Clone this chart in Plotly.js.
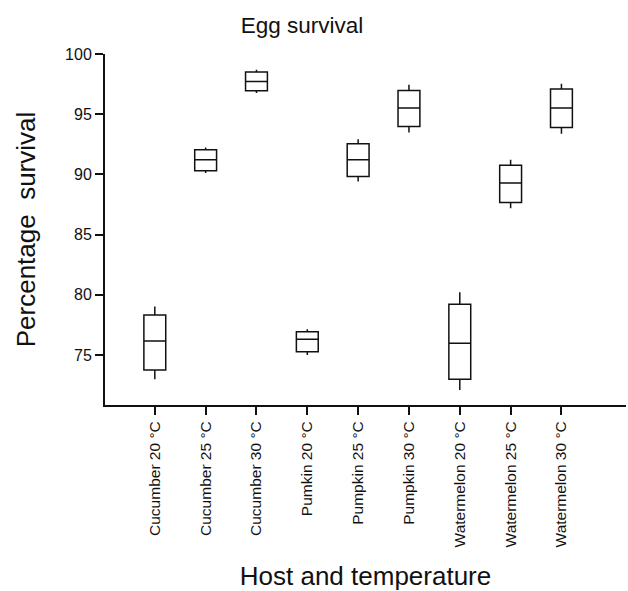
<!DOCTYPE html>
<html>
<head>
<meta charset="utf-8">
<script src="https://cdn.plot.ly/plotly-3.0.1.min.js"></script>
<style>html,body{margin:0;padding:0;background:#fff;}#chart{width:628px;height:591px;}</style>
</head>
<body>
<div id="chart"></div>
<script>
const categories = ["Cucumber 20 °C","Cucumber 25 °C","Cucumber 30 °C","Pumkin 20 °C","Pumpkin 25 °C","Pumpkin 30 °C","Watermelon 20 °C","Watermelon 25 °C","Watermelon 30 °C"];
const lowerWhisker = [72.98, 90.11, 96.76, 75.00, 89.41, 93.48, 72.10, 87.20, 93.37];
const q1Values     = [73.76, 90.30, 96.95, 75.28, 89.83, 93.98, 72.98, 87.66, 93.90];
const medianValues = [76.17, 91.21, 97.72, 76.31, 91.21, 95.51, 75.98, 89.28, 95.51];
const q3Values     = [78.33, 92.04, 98.50, 76.94, 92.54, 96.97, 79.22, 90.77, 97.09];
const upperWhisker = [79.02, 92.24, 98.69, 77.14, 92.93, 97.45, 80.22, 91.21, 97.53];
const yTicks = [75, 80, 85, 90, 95, 100];

const FONT = "Liberation Sans, Arial, Helvetica, sans-serif";

const trace = {
  type: "box",
  x: categories,
  lowerfence: lowerWhisker,
  q1: q1Values,
  median: medianValues,
  q3: q3Values,
  upperfence: upperWhisker,
  boxpoints: false,
  width: 0.43,
  line: {color: "#111", width: 1.5},
  fillcolor: "rgba(255,255,255,0)",
  whiskerwidth: 0,
  showlegend: false
};

const layout = {
  width: 628,
  height: 591,
  paper_bgcolor: "#fff",
  plot_bgcolor: "#fff",
  margin: {l: 105, r: 2, t: 54, b: 186},
  font: {family: FONT, color: "#111"},
  title: {
    text: "Egg survival",
    font: {family: FONT, size: 22.5, color: "#111"},
    xref: "container", x: 0.481, xanchor: "center",
    yref: "container", y: 1 - 25/591, yanchor: "middle"
  },
  xaxis: {
    type: "category",
    range: [-0.98, 9.27],
    showline: true, linecolor: "#111", linewidth: 2,
    ticks: "outside", ticklen: 8, tickwidth: 2, tickcolor: "#111",
    tickangle: -90,
    tickfont: {family: FONT, size: 15.5, color: "#111"},
    showgrid: false, zeroline: false,
    title: {text: "Host and temperature", font: {family: FONT, size: 26, color: "#111"}, standoff: 24}
  },
  yaxis: {
    range: [70.85, 100],
    tickvals: yTicks,
    showline: true, linecolor: "#111", linewidth: 2,
    ticks: "outside", ticklen: 8, tickwidth: 2, tickcolor: "#111",
    tickfont: {family: FONT, size: 16, color: "#111"},
    showgrid: false, zeroline: false,
    title: {text: "Percentage&nbsp;&nbsp;survival", font: {family: FONT, size: 26, color: "#111"}, standoff: 22}
  },
  boxmode: "overlay"
};

Plotly.newPlot("chart", [trace], layout, {displayModeBar: false, staticPlot: true});
</script>
</body>
</html>
